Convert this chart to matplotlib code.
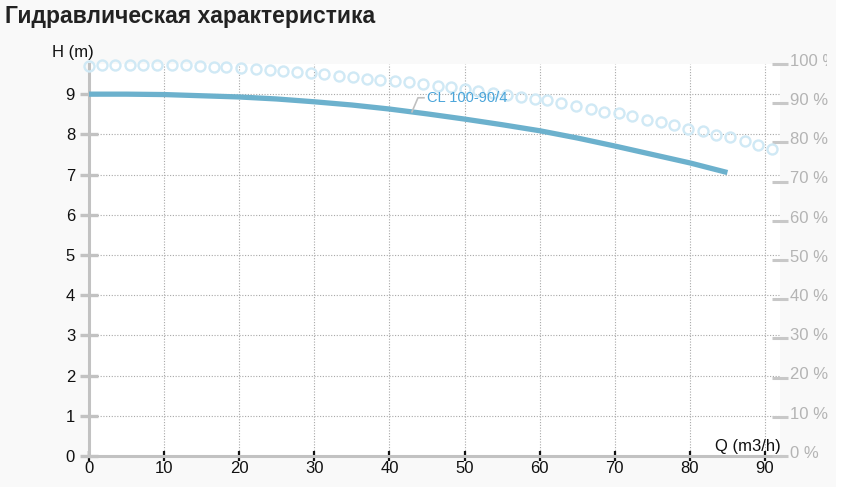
import matplotlib
matplotlib.use('Agg')
import matplotlib.pyplot as plt
from matplotlib.patches import Rectangle
from matplotlib.transforms import ScaledTranslation

plt.rcParams['font.family'] = ['Liberation Sans', 'DejaVu Sans']

# Head curve H(Q)
q_head = [0, 5, 10, 15, 20, 25, 30, 35, 40, 45, 50, 55, 60, 65, 70, 75, 80, 85]
h_head = [9.0, 9.0, 8.99, 8.96, 8.93, 8.88, 8.81, 8.73, 8.63, 8.51, 8.38, 8.24,
          8.09, 7.91, 7.71, 7.50, 7.29, 7.05]

# Efficiency points (%)
q_eff = [0.0, 1.7, 3.5, 5.4, 7.2, 9.0, 11.0, 12.9, 14.8, 16.6, 18.3, 20.3, 22.3,
         24.1, 25.8, 27.7, 29.6, 31.3, 33.3, 35.1, 37.0, 38.8, 40.7, 42.6, 44.5,
         46.4, 48.2, 50.1, 51.8, 53.8, 55.6, 57.5, 59.4, 61.0, 62.9, 64.9, 66.8,
         68.6, 70.5, 72.3, 74.3, 76.1, 77.9, 79.8, 81.7, 83.5, 85.4, 87.3, 89.1, 91.0]
eff = [99.5, 99.7, 99.7, 99.7, 99.7, 99.7, 99.7, 99.7, 99.5, 99.3, 99.3, 98.9, 98.7,
       98.5, 98.2, 98.0, 97.8, 97.4, 97.0, 96.7, 96.3, 95.9, 95.7, 95.3, 94.9,
       94.5, 94.1, 93.6, 93.2, 92.7, 92.1, 91.7, 91.1, 90.7, 90.0, 89.3, 88.5,
       87.8, 87.4, 86.7, 85.7, 85.1, 84.4, 83.4, 82.9, 81.9, 81.3, 80.4, 79.3, 78.3]

x_ticks = [0, 10, 20, 30, 40, 50, 60, 70, 80, 90]
h_ticks = [0, 1, 2, 3, 4, 5, 6, 7, 8, 9]
pct_ticks = [0, 10, 20, 30, 40, 50, 60, 70, 80, 90, 100]

W, H = 843, 487
fig = plt.figure(figsize=(W / 100, H / 100), dpi=100, facecolor='#f9f9f9')
ax = fig.add_axes([89 / W, 31 / H, (780 - 89) / W, (456 - 64) / H])
ax.set_facecolor('white')

ax.set_xlim(0, 92)
ax.set_ylim(0, 9.75)

# grid
for x in x_ticks[1:]:
    ax.axvline(x, color='#a8a8a8', lw=0.8, ls=(0, (1, 1.5)), zorder=1)
for y in h_ticks[1:]:
    ax.axhline(y, color='#a8a8a8', lw=0.8, ls=(0, (1, 1.5)), zorder=1)

for s in ['top', 'right']:
    ax.spines[s].set_visible(False)
ax.spines['left'].set_color('#c2c2c2')
ax.spines['left'].set_linewidth(2.2)
ax.spines['bottom'].set_color('#c2c2c2')
ax.spines['bottom'].set_linewidth(2.2)

ax.set_xticks(x_ticks)
ax.set_yticks(h_ticks)
ax.tick_params(axis='x', direction='inout', length=7, width=1.6, color='#111111',
               labelsize=12, labelcolor='#111111', pad=0)
ax.tick_params(axis='y', direction='inout', length=13, width=2.4, color='#c2c2c2',
               labelsize=12, labelcolor='#111111', pad=3.5)

ax.plot(q_head, h_head, color='#6cb1cd', lw=3.8, solid_capstyle='butt', zorder=4)

# efficiency on right axis
ax2 = ax.twinx()
ax2.set_ylim(0, 100)
for s in ['top', 'right', 'left', 'bottom']:
    ax2.spines[s].set_visible(False)
ax2.set_yticks(pct_ticks)
ax2.set_yticklabels([f'{p} %' for p in pct_ticks])
ax2.tick_params(axis='y', direction='inout', length=11.5, width=2.2, color='#c8c8c8',
                labelsize=12, labelcolor='#b4b4b4', pad=1.5)
# labels sit a little above their ticks
up = ScaledTranslation(0, 3 / 72, fig.dpi_scale_trans)
for t in ax2.yaxis.get_major_ticks():
    t.label2.set_transform(t.label2.get_transform() + up)

ax2.plot(q_eff, eff, ls='none', marker='o', ms=7.2, mfc='none', mec='#d0e9f5',
         mew=1.7, clip_on=False, zorder=3)

# curve label with leader (drawn above the efficiency circles)
ax2.plot([43.0, 43.8, 44.6], [8.56, 8.91, 8.91], color='#c0c0c0', lw=1.2,
         transform=ax.transData, zorder=5)
ax2.text(45.0, 8.91, 'CL 100-90/4', color='#4aa5da', fontsize=10.5,
         va='center', ha='left', transform=ax.transData, zorder=6)

fig.text(52 / W, 1 - 53 / H, 'H (m)', fontsize=12, color='#111111', va='center', ha='left')
fig.text(781 / W, 1 - 446 / H, 'Q (m3/h)', fontsize=12, color='#111111',
         va='center', ha='right')

fig.text(5 / W, 1 - 17 / H, 'Гидравлическая характеристика', fontsize=16.5,
         fontweight='bold', color='#222222', va='center', ha='left')

# chart container clips the top label, white strip at right edge
fig.patches.append(Rectangle((827 / W, 1 - 72 / H), 9 / W, 30 / H, transform=fig.transFigure,
                             facecolor='#f9f9f9', edgecolor='none', zorder=10))
fig.patches.append(Rectangle((836 / W, 0), 1 - 836 / W, 1, transform=fig.transFigure,
                             facecolor='white', edgecolor='none', zorder=10))

fig.savefig('out.png', dpi=100, facecolor=fig.get_facecolor())
